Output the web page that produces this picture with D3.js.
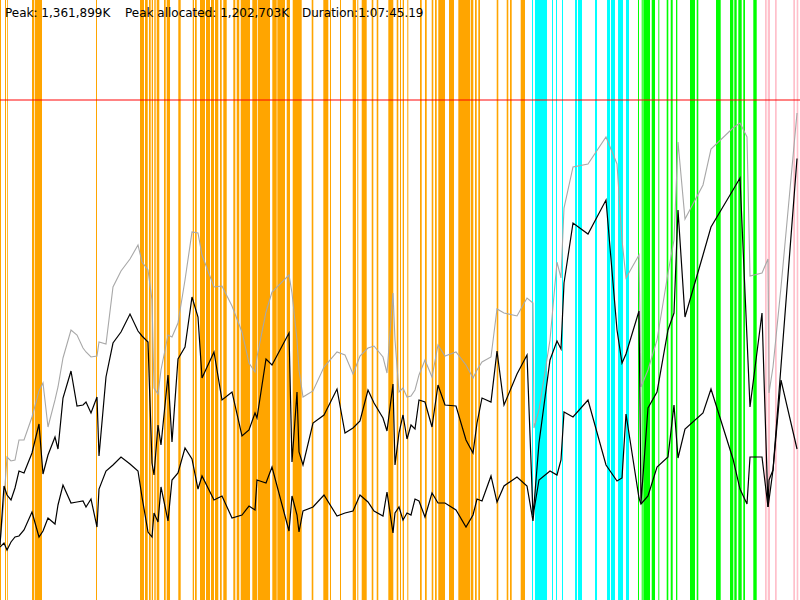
<!DOCTYPE html>
<html>
<head>
<meta charset="utf-8">
<script src="https://cdn.jsdelivr.net/npm/d3@7"></script>
<style>
  body { margin: 0; background: #fff; }
  text { font-family: "DejaVu Sans", sans-serif; font-size: 12px; fill: #000; }
</style>
</head>
<body>
<div id="chart-area"></div>
<script>
// memory samples: seconds, thousands of K
let peak = 1361.899;
let peakAllocated = 1202.703;
let duration = 4065.19;

let labels = ["Peak: 1,361,899K", "Peak allocated: 1,202,703K", "Duration:1:07:45.19"];

let times = [0, 20.3, 35.6, 55.9, 76.2, 96.5, 122.0, 162.6, 198.2, 218.5, 243.9, 279.5, 294.7, 320.1, 360.8, 391.3, 421.8, 437.0, 462.4, 492.9,
  503.1, 538.6, 574.2, 614.9, 660.6, 701.2, 721.6, 752.1, 772.4, 782.6, 802.9, 818.1, 853.7, 874.0, 904.5, 940.1, 975.6, 1006.1, 1026.5, 1087.4,
  1128.1, 1178.9, 1229.7, 1265.3, 1295.8, 1305.9, 1351.7, 1382.2, 1468.6, 1483.8, 1509.2, 1519.4, 1539.7, 1590.5, 1646.4, 1712.5, 1753.1, 1793.8, 1829.3, 1870.0,
  1900.5, 1946.2, 1966.5, 1997.0, 2007.2, 2027.5, 2047.8, 2068.2, 2088.5, 2108.8, 2129.1, 2159.6, 2195.2, 2225.7, 2261.3, 2317.2, 2368.0, 2403.6, 2423.9, 2449.3,
  2495.0, 2525.5, 2561.1, 2627.1, 2678.0, 2708.4, 2713.5, 2738.9, 2794.8, 2830.4, 2850.7, 2866.0, 2911.7, 2987.9, 3079.4, 3135.3, 3160.7, 3181.0, 3247.1, 3257.2,
  3292.8, 3338.6, 3394.4, 3424.9, 3445.3, 3480.8, 3572.3, 3612.9, 3724.7, 3760.3, 3795.9, 3811.1, 3872.1, 3902.6, 3907.7, 3928.0, 3968.7, 4050.0];

let heapSize = [149.8, 272.4, 389.5, 378.6, 381.3, 435.8, 435.8, 498.5, 569.3, 591.1, 471.2, 544.8, 580.2, 659.2, 735.4, 721.8, 686.4, 675.5, 661.9, 664.6,
  702.7, 697.3, 852.5, 896.1, 928.8, 967.0, 920.6, 898.9, 817.1, 577.4, 561.1, 626.5, 721.8, 716.4, 754.5, 871.6, 1002.4, 999.6, 939.7, 852.5,
  855.3, 800.8, 730.0, 645.5, 621.0, 661.9, 784.5, 838.9, 885.2, 836.2, 708.2, 626.5, 552.9, 569.3, 634.6, 675.5, 667.3, 615.6, 664.6, 686.4,
  691.8, 661.9, 618.3, 836.2, 708.2, 566.6, 577.4, 552.9, 555.7, 572.0, 612.9, 653.7, 607.4, 694.6, 664.6, 675.5, 640.1, 604.7, 626.5, 648.3,
  661.9, 792.6, 781.7, 773.6, 822.6, 809.0, 468.5, 517.5, 708.2, 920.6, 877.1, 1067.7, 1179.4, 1187.6, 1261.1, 1187.6, 980.6, 877.1, 939.7, 580.2,
  626.5, 708.2, 890.7, 980.6, 1247.5, 1037.8, 1130.4, 1228.4, 1285.6, 1299.3, 1261.1, 882.5, 890.7, 928.8, 563.8, 634.6, 852.5, 1326.5];

let allocated = [149.8, 310.5, 286.0, 272.4, 305.1, 351.4, 345.9, 400.4, 479.4, 343.2, 395.0, 444.0, 411.3, 550.2, 623.7, 528.4, 531.1, 539.3, 509.4, 552.9,
  392.2, 607.4, 700.0, 730.0, 779.0, 732.7, 719.1, 702.7, 373.2, 340.5, 476.7, 422.2, 612.9, 430.4, 656.4, 689.1, 825.3, 770.8, 604.7, 675.5,
  544.8, 566.6, 446.7, 463.0, 509.4, 495.7, 656.4, 640.1, 727.3, 375.9, 566.6, 403.1, 367.7, 482.1, 503.9, 574.7, 454.9, 468.5, 487.6, 572.0,
  536.6, 495.7, 460.3, 588.3, 367.7, 454.9, 503.9, 438.5, 476.7, 465.8, 544.8, 539.3, 471.2, 585.6, 531.1, 528.4, 435.8, 400.4, 482.1, 550.2,
  539.3, 678.2, 531.1, 615.6, 667.3, 231.5, 258.8, 427.6, 653.7, 705.5, 683.7, 863.4, 1026.9, 996.9, 1089.5, 735.4, 645.5, 670.1, 787.2, 264.2,
  523.0, 566.6, 735.4, 781.7, 1062.3, 770.8, 939.7, 1016.0, 1116.8, 1149.4, 713.6, 525.7, 781.7, 253.3, 326.9, 354.1, 637.4, 1202.7];

let live = [144.4, 155.3, 136.2, 158.0, 171.6, 174.3, 190.7, 239.7, 171.6, 187.9, 223.4, 207.0, 258.8, 313.2, 264.2, 266.9, 269.7, 253.3, 275.1, 198.8,
  302.3, 351.4, 367.7, 389.5, 370.4, 351.4, 280.6, 185.2, 171.6, 237.0, 212.5, 307.8, 215.2, 326.9, 345.9, 414.0, 384.1, 302.3, 337.8, 272.4,
  283.3, 223.4, 231.5, 256.0, 245.1, 326.9, 318.7, 362.3, 187.9, 283.3, 231.5, 185.2, 242.4, 253.3, 286.0, 228.8, 237.0, 242.4, 286.0, 266.9,
  242.4, 228.8, 294.2, 182.5, 237.0, 253.3, 217.9, 237.0, 231.5, 275.1, 269.7, 226.1, 291.4, 264.2, 264.2, 245.1, 198.8, 231.5, 275.1, 269.7,
  337.8, 266.9, 310.5, 335.0, 310.5, 215.2, 245.1, 326.9, 351.4, 340.5, 381.3, 512.1, 498.5, 544.8, 367.7, 324.1, 332.3, 506.6, 277.8, 261.5,
  283.3, 362.3, 389.5, 531.1, 386.8, 465.8, 509.4, 574.7, 384.1, 302.3, 261.5, 389.5, 389.5, 253.3, 272.4, 354.1, 599.2, 411.3];

// pause intervals, [start, end] seconds
let youngPauses = [[0, 5.1], [25.4, 30.5], [35.6, 39.1], [162.6, 174.3], [177.9, 213.4], [487.8, 492.9], [711.4, 731.7], [736.8, 750.6],
  [757.1, 765.8], [770.9, 777.5], [784.1, 791.2], [796.3, 809.5], [833.4, 842.0], [847.1, 863.9], [906.0, 918.2], [979.2, 985.8],
  [990.9, 999.5], [1016.3, 1041.7], [1046.8, 1067.1], [1072.2, 1087.4], [1092.5, 1109.3], [1117.9, 1126.6], [1134.7, 1152.0],
  [1185.5, 1195.7], [1202.8, 1216.0], [1223.1, 1270.4], [1282.1, 1305.9], [1309.5, 1372.0], [1383.7, 1406.1], [1409.1, 1448.2],
  [1456.9, 1473.6], [1487.4, 1533.1], [1583.9, 1592.1], [1642.9, 1668.3], [1676.9, 1682.0], [1727.7, 1732.8], [1792.2, 1809.0],
  [1815.6, 1820.7], [1838.0, 1863.4], [1888.8, 1897.0], [1914.2, 1922.3], [1973.2, 1998.6], [2015.8, 2024.0], [2032.6, 2037.7],
  [2046.3, 2052.9], [2069.7, 2074.8], [2134.2, 2142.9], [2159.6, 2168.3], [2193.7, 2201.8], [2210.5, 2219.1], [2227.2, 2261.3],
  [2281.6, 2307.0], [2328.9, 2388.3], [2391.9, 2405.1], [2413.7, 2422.4], [2430.5, 2439.1], [2524.0, 2532.1], [2574.8, 2582.9],
  [2591.6, 2600.2], [2645.9, 2667.8]];

let remarkPauses = [[2703.4, 2708.4], [2718.6, 2779.6], [2805.0, 2810.1], [2825.3, 2830.4], [2855.8, 2860.9], [2921.9, 2932.0],
  [2937.1, 2957.4], [3023.5, 3033.7], [3084.5, 3099.9], [3104.8, 3125.1], [3140.4, 3165.8], [3181.0, 3196.3]];

let mixedPauses = [[3242.0, 3247.1], [3260.8, 3265.9], [3269.0, 3303.0], [3311.6, 3328.4], [3345.3, 3350.2], [3387.8, 3396.0],
  [3408.2, 3418.3], [3435.1, 3441.8], [3506.2, 3531.6], [3540.3, 3548.4], [3638.4, 3662.2], [3709.5, 3726.3], [3731.3, 3743.5],
  [3751.7, 3768.9], [3777.1, 3785.7], [3827.9, 3845.2]];

let fullPauses = [[3887.3, 3896.0], [3901.1, 3912.8], [3938.2, 3946.8], [4031.2, 4039.8], [4048.4, 4056.6]];

let svgW = 800;
let svgH = 600;

let svg = d3.select("#chart-area")
  .append("svg")
  .attr("width", svgW)
  .attr("height", svgH)

let x = d3.scaleLinear()
  .domain([0, duration])
  .range([0, svgW])

let y = d3.scaleLinear()
  .domain([0, peak * 1.2])
  .range([svgH, 0])

const drawPauses = (pauses, color) => {
  svg.append("g")
    .selectAll("rect")
    .data(pauses)
    .enter()
    .append("rect")
    .attr("x", d => x(d[0]))
    .attr("y", 0)
    .attr("width", d => Math.max(x(d[1]) - x(d[0]), 0.8))
    .attr("height", svgH)
    .attr("fill", color)
}

drawPauses(youngPauses, "#ffa500")
drawPauses(remarkPauses, "#00ffff")
drawPauses(mixedPauses, "#00ff00")
drawPauses(fullPauses, "#ffc0cb")

svg.append("line")
  .attr("x1", 0)
  .attr("x2", svgW)
  .attr("y1", y(peak))
  .attr("y2", y(peak))
  .attr("stroke", "red")
  .attr("stroke-opacity", 0.65)
  .attr("stroke-width", 1.5)

const drawLine = (values, color, width) => {
  let line = d3.line()
    .x((d, i) => x(times[i]))
    .y(d => y(d))
  svg.append("path")
    .datum(values)
    .attr("d", line)
    .attr("fill", "none")
    .attr("stroke", color)
    .attr("stroke-width", width)
}

drawLine(heapSize, "#a8a8a8", 1.1)
drawLine(allocated, "#000", 1.2)
drawLine(live, "#000", 1.2)

let labelX = [5, 125, 302];

svg.selectAll("text.label")
  .data(labels)
  .enter()
  .append("text")
  .attr("class", "label")
  .attr("x", (d, i) => labelX[i])
  .attr("y", 17)
  .text(d => d)
</script>
</body>
</html>
